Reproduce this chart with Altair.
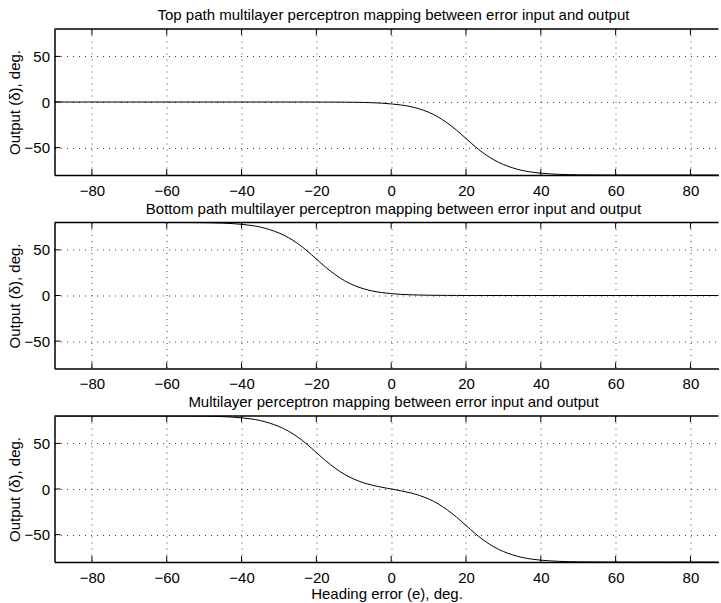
import altair as alt
import pandas as pd

# Heading error samples (deg.)
heading_error = [
    -90, -85, -80, -75, -70, -65, -60, -55, -50,
    -47.5, -45, -42.5, -40, -37.5, -35, -32.5, -30, -27.5, -25, -22.5, -20,
    -17.5, -15, -12.5, -10, -7.5, -5, -2.5, 0, 2.5, 5, 7.5, 10, 12.5, 15,
    17.5, 20, 22.5, 25, 27.5, 30, 32.5, 35, 37.5, 40, 42.5, 45, 47.5,
    50, 55, 60, 65, 70, 75, 80, 85, 90,
]

# Top path output (deg.)
top_path = [
    0, 0, 0, 0, 0, 0, 0, 0, 0,
    0, 0, 0, 0, 0, 0, 0, 0, 0, 0, 0, -0.04,
    -0.07, -0.12, -0.2, -0.3, -0.5, -0.8, -1.3, -2.1, -3.2, -4.9, -7.5, -11.2, -16.3, -23,
    -31, -40, -49, -57, -63.5, -68.5, -72.2, -75, -76.8, -78, -78.8, -79.3, -79.6,
    -79.8, -79.95, -80, -80, -80, -80, -80, -80, -80,
]

# Bottom path output (deg.)
bottom_path = [
    80, 80, 80, 80, 80, 80, 80, 79.95, 79.8,
    79.6, 79.3, 78.8, 78, 76.8, 75, 72.2, 68.5, 63.5, 57, 49, 40,
    31, 23, 16.3, 11.2, 7.5, 4.9, 3.2, 2.1, 1.3, 0.8, 0.5, 0.3, 0.2, 0.12,
    0.07, 0.04, 0, 0, 0, 0, 0, 0, 0, 0, 0, 0, 0,
    0, 0, 0, 0, 0, 0, 0, 0, 0,
]

# Combined network output (deg.)
combined = [
    80, 80, 80, 80, 80, 80, 80, 79.95, 79.8,
    79.6, 79.3, 78.8, 78, 76.8, 75, 72.2, 68.5, 63.5, 57, 49, 39.96,
    30.93, 22.88, 16.1, 10.9, 7, 4.1, 1.9, 0, -1.9, -4.1, -7, -10.9, -16.1, -22.88,
    -30.93, -39.96, -49, -57, -63.5, -68.5, -72.2, -75, -76.8, -78, -78.8, -79.3, -79.6,
    -79.8, -79.95, -80, -80, -80, -80, -80, -80, -80,
]

x_ticks = [-80, -60, -40, -20, 0, 20, 40, 60, 80]
y_ticks = [-50, 0, 50]

titles = [
    "Top path multilayer perceptron mapping between error input and output",
    "Bottom path multilayer perceptron mapping between error input and output",
    "Multilayer perceptron mapping between error input and output",
]
y_title = "Output (δ), deg."
x_title = "Heading error (e), deg."

FONT = "Liberation Sans"
FS = 15
W, H = 664, 146
TICK = 6

x_scale = alt.Scale(domain=[-90, 87.5], nice=False, zero=False)
y_scale = alt.Scale(domain=[-80, 80], nice=False, zero=False)


def panel(values, title, with_xtitle):
    x_axis = alt.Axis(
        values=x_ticks, grid=True, ticks=False, labelPadding=8,
        title=x_title if with_xtitle else None, titlePadding=1.5,
    )
    y_axis = alt.Axis(values=y_ticks, grid=True, ticks=False, labelPadding=5,
                      title=y_title, titlePadding=1.5)

    def xe(field):
        return alt.X(field, type="quantitative", scale=x_scale, axis=x_axis)

    def ye(field):
        return alt.Y(field, type="quantitative", scale=y_scale, axis=y_axis)

    curve = alt.Chart(pd.DataFrame({"e": heading_error, "d": values})).mark_line(
        color="black", strokeWidth=1, clip=True, interpolate="monotone"
    ).encode(x=xe("e"), y=ye("d"))

    one = pd.DataFrame({"k": [0]})
    top_border = alt.Chart(one).mark_rule(color="black", strokeWidth=1.5).encode(
        x=alt.value(0), x2=alt.value(W), y=alt.value(0)
    )

    xt = pd.DataFrame({"e": x_ticks})
    yt = pd.DataFrame({"d": y_ticks})
    ticks_top = alt.Chart(xt).mark_rule(color="black", strokeWidth=1).encode(
        x=xe("e"), y=alt.value(0), y2=alt.value(TICK)
    )
    ticks_bottom = alt.Chart(xt).mark_rule(color="black", strokeWidth=1).encode(
        x=xe("e"), y=alt.value(H), y2=alt.value(H - TICK)
    )
    ticks_left = alt.Chart(yt).mark_rule(color="black", strokeWidth=1).encode(
        y=ye("d"), x=alt.value(0), x2=alt.value(TICK)
    )

    return alt.layer(curve, top_border, ticks_top, ticks_bottom, ticks_left).properties(
        width=W, height=H,
        title=alt.TitleParams(
            title, anchor="middle", frame="group", fontSize=FS, font=FONT,
            fontWeight="normal", color="black", offset=5, dx=7,
        ),
    )


chart = alt.vconcat(
    panel(top_path, titles[0], False),
    panel(bottom_path, titles[1], False),
    panel(combined, titles[2], True),
    spacing=3.5,
).properties(
    padding={"left": 7.5, "top": 8, "right": 0, "bottom": 0},
    background="white",
).configure_view(stroke=None).configure_axis(
    domainColor="black", domainWidth=1.5,
    labelFont=FONT, labelFontSize=FS, labelColor="black",
    titleFont=FONT, titleFontSize=FS, titleFontWeight="normal", titleColor="black",
    gridColor="#000", gridDash=[1, 5], gridOpacity=0.75, gridWidth=1,
)

chart.save("out.html", embed_options={"renderer": "svg", "actions": False})
